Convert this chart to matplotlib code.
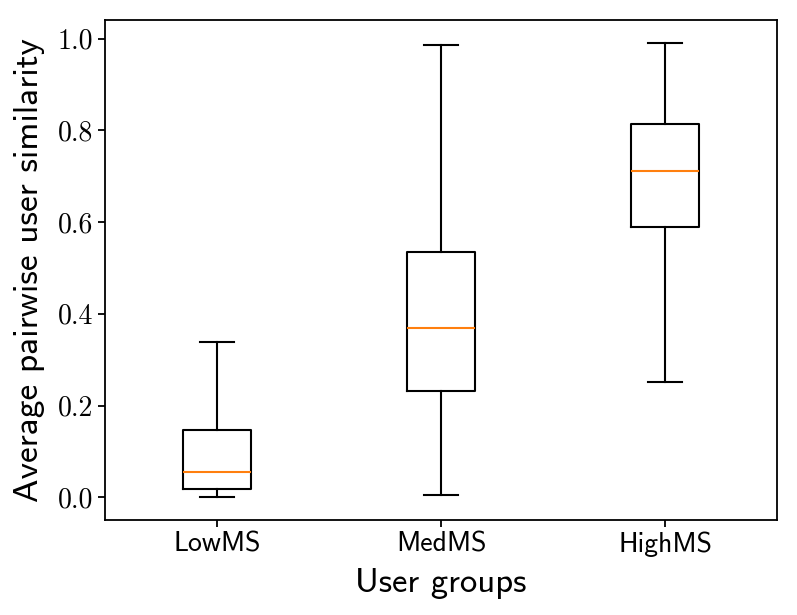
import matplotlib
matplotlib.use("Agg")
import matplotlib.pyplot as plt

groups = ["LowMS", "MedMS", "HighMS"]
whislo = [0.0, 0.004, 0.251]
q1 = [0.019, 0.232, 0.589]
med = [0.055, 0.368, 0.712]
q3 = [0.146, 0.535, 0.814]
whishi = [0.338, 0.986, 0.991]

stats = []
for i, g in enumerate(groups):
    stats.append(dict(label=g, whislo=whislo[i], q1=q1[i], med=med[i],
                      q3=q3[i], whishi=whishi[i], fliers=[]))

fig = plt.figure(figsize=(7.97, 6.15), dpi=100)
ax = fig.add_axes([0.1317, 0.1545, 0.8433, 0.813])
lw = 1.5
ax.bxp(stats, widths=0.3,
       boxprops=dict(linewidth=lw, color="black"),
       whiskerprops=dict(linewidth=lw, color="black"),
       capprops=dict(linewidth=lw, color="black"),
       medianprops=dict(linewidth=lw, color="#ff7f0e"),
       showfliers=False)
for s in ax.spines.values():
    s.set_linewidth(1.3)
ax.tick_params(width=1.3, length=5)
ax.set_yticks([0.0, 0.2, 0.4, 0.6, 0.8, 1.0])
ax.set_yticklabels([f"{v:.1f}" for v in [0.0, 0.2, 0.4, 0.6, 0.8, 1.0]],
                   fontfamily="cmr10", fontsize=20)
ax.set_xticklabels(groups, fontfamily="cmss10", fontsize=20)
ax.set_xlabel("User groups", fontfamily="cmss10", fontsize=25, labelpad=8)
ax.set_ylabel("Average pairwise user similarity", fontfamily="cmss10",
              fontsize=25.5, labelpad=9)
fig.savefig("out.png", dpi=100)
